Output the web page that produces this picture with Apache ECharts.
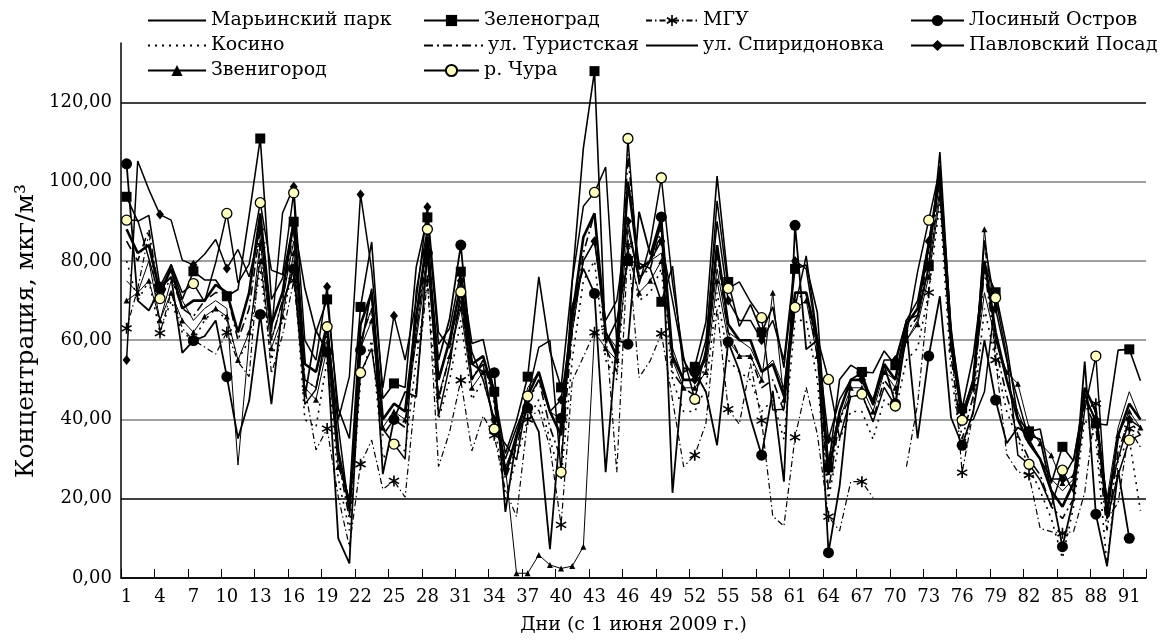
<!DOCTYPE html>
<html><head><meta charset="utf-8">
<script src="https://cdn.jsdelivr.net/npm/echarts@6/dist/echarts.min.js"></script>
<style>html,body{margin:0;padding:0;background:#fff}#c{width:1163px;height:641px}</style>
</head><body><div id="c"></div>
<script>
const days = Array.from({length: 92}, (_, i) => String(i + 1));

const maryino = [75,72,80,65,75,70,65,68,70,68, 28.5,60,85,60,70,85,50,48,60,30, 20,60,68,40,44,42,62,82,50,60, 70,50,55,48,28,35,48,52,42,40, 62,80,85,62,58,88,75,80,82,58, 50,50,55,78,62,60,58,52,55,48, 72,72,58,30,42,50,50,45,52,50, 60,65,78,98,60,42,50,72,60,50, 42,35,30,25,22,25,48,42,20,38, 47,40];
const zelenograd = [96.2,90,91.5,73.5,79.1,70.3,77.4,75.2,75.2,71.1, 72.8,91.5,110.9,70.3,75.6,89.9,73.1,62,70.3,42.8, 35.2,68.4,84.8,45.3,49.1,48.1,78.5,91.0,59,63, 77.3,59.2,60.2,47.0,31.4,39.7,50.8,76.0,57.3,48.1, 75,108.5,127.9,59.2,65,80,79.4,78.1,69.7,78.7, 52.0,53.3,64.6,101.4,74.7,63.5,69,62,68.4,53.1, 78,79,67.0,27.9,50.1,53.7,52,51.8,57.3,53.7, 65.1,66.3,78.7,107.5,62.1,42.8,56.2,78.7,72.1,58.5, 40.3,37,37.6,23.9,33.1,29.5,46.6,39.0,38.6,57.5, 57.7,49.8];
const mgu = [63,73,87,61.8,72,63,60,58.3,56.5,62, 54.6,50.8,84,51.6,61.3,75,48,32.3,37.7,20.5, 7.9,28.7,34.8,22.4,24.5,20.4,48.3,75,28.1,36.9, 49.9,32.1,40.9,36,22.2,15.5,40,42.4,33.1,13.4, 49.8,55.8,62,63,26.7,84,50.6,54.8,61.7,45, 28.1,31.0,39.0,68,42.6,38.8,54.1,39.7,15.6,13.1, 35.5,48.1,36.3,15.5,11.9,24.3,24.3,20.3,null,null, 28.1,43.9,72,105,60,26.6,42,85.2,55.0,31.2, 26.8,26.0,12.5,11.7,11.3,11.7,21.6,44,15,19.0, 37.7,33];
const losiny = [104.5,70,67.5,73,76,56.8,59.9,61,65,50.8, 35.2,44.7,66.5,43.9,69,78,45.7,62.5,57,10.0, 3.7,57.5,73,26.2,40,47,45.7,82,55,65.5, 84.0,54,52,51.8,16.7,35.2,42.9,36.9,7.3,40.3, 68.6,78.1,71.8,26.7,60,59.0,92.4,81.6,91.1,21.5, 53,52,47.0,33.5,59.6,52.3,40.3,31.0,47.2,24.3, 89.0,57.7,60,6.4,23.2,50.1,51.8,43.6,53.9,44, 63,35.2,56.0,71.1,40.5,33.5,42,60.0,44.9,34.0, 38,36.1,35,22,7.9,20,54.6,16.1,3.0,27.2, 10.0,null];
const kosino = [80,70,75,62,70,62,60,65,68,65, 55,60,78,55,65,80,40,38,55,25, 12,50,60,30,35,32,55,75,40,50, 65,45,50,40,20,30,40,45,35,25, 55,75,80,55,50,85,70,72,78,50, 42,42,48,72,55,52,50,42,45,35, 65,65,50,20,35,42,42,35,45,42, 55,58,72,95,52,32,42,68,55,42, 35,28,22,15,5,18,40,35,3,30, 35,17];
const turist = [85,80,88,70,76,68,66,70,72,72, 60,68,88,60,70,88,50,48,62,30, 15,60,68,36,40,38,62,85,45,56, 70,50,55,44,25,33,44,50,38,30, 62,82,92,58,52,107,76,78,88,52, 48,46,54,82,62,56,56,48,50,42, 70,72,56,22,40,46,46,40,50,46, 62,66,82,100,56,35,46,78,58,46, 36,30,26,18,15,20,44,38,12,32, 40,36];
const spiridon = [88,82,84,72,78,68,70,70,74,72, 62,72,92,64,72,90,54,52,64,32, 18,64,72,40,44,42,66,86,50,60, 74,54,56,46,26,36,46,52,42,36, 66,86,92,62,56,100,78,80,90,56, 50,50,56,84,64,60,60,52,54,46, 72,72,60,26,42,50,50,44,54,50, 64,68,84,102,60,40,50,80,62,50, 40,34,30,22,18,24,48,42,16,36, 44,40];
const pavlovsky = [55,105.2,98,91.7,90.3,80.2,79,81.7,85.4,78.1, 82.9,76,88.0,62,92.1,98.7,60,55,73.5,40, 50.8,96.8,77.7,48,66.2,55,70,93.6,62,58, 75,57,50,40,30,38,45,50,42,45, 65,80,85,65,70,90,75,80,85,70, 55,50,60,90,70,65,65,60,65,55, 80,78,60,35,45,50,50,45,55,55, 65,70,85,100,60,40,50,85,68,55, 45,35,30,25,25,30,45,40,20,30, 40,38];
const zvenigorod = [70,72,75,65,72,65,62,66,68,66, 55,62,80,58,66,82,48,45,58,28, 20,58,65,38,42,40,60,80,46,56, 68,48,52,40,28,1.2,1.2,5.8,3.3,2.4, 3.0,7.9,62,58,55,82,72,75,80,55, 48,48,52,75,60,56,56,50,72,45, 68,70,56,28,40,48,48,42,52,48, 60,64,76,96,58,40,48,88,60,52, 49,38,34,31,24,26,46,40,18,36, 42,38];
const chura = [90.3,90.3,80.6,70.5,79.1,72.0,74.3,69.7,79.6,92.0, 74.5,79.2,94.7,77.7,76.6,97.2,43.8,47.6,63.4,38.4, 16.3,51.8,57.9,37.6,33.8,30.0,72.6,88.0,40.9,53.7, 72.2,50.4,54.0,37.6,33.8,29.8,45.9,58.2,59.9,26.7, 74.9,93.8,97.3,103.7,59.4,110.9,74.1,84.4,101.0,74.5, 55.7,45.1,57.9,95.2,73.1,74.7,69.7,65.7,42.4,42.6, 68.3,81.3,60.7,50.1,35.2,45.7,46.4,39.4,48.1,43.4, 61.4,77.3,90.3,103.3,63.4,39.8,40.0,47.0,70.7,56.0, 31.0,28.7,24.7,18.2,27.2,21.6,42.4,56.0,14.9,26, 34.8,36.1];

const F = 'DejaVu Serif';
const STAR = 'path://M-0.07,-0.5L0.07,-0.5L0.07,0.5L-0.07,0.5Z M0.398,-0.311L0.468,-0.189L-0.398,0.311L-0.468,0.189Z M0.468,0.189L0.398,0.311L-0.468,-0.189L-0.398,-0.311Z';

function leg(name, left, textX, rowCenter, hide) {
  return {
    data: [hide ? {name: name, itemStyle: {opacity: 0}} : name],
    left: left, top: rowCenter - 11, itemWidth: textX - left - 5, itemHeight: 14,
    padding: 0, selectedMode: false,
    textStyle: {fontFamily: F, fontSize: 19, color: '#000'}
  };
}

function lineSeries(name, data, lineStyle, sym) {
  const s = {
    name: name, type: 'line', data: data, connectNulls: false,
    lineStyle: Object.assign({color: '#000'}, lineStyle),
    itemStyle: {color: '#000'}, emphasis: {disabled: true}, clip: false
  };
  if (sym) Object.assign(s, sym); else { s.symbol = 'none'; }
  return s;
}

const chart = echarts.init(document.getElementById('c'), null, {renderer: 'canvas'});
chart.setOption({
  animation: false,
  backgroundColor: '#fff',
  grid: {left: 121, right: 17, top: 43, bottom: 63},
  legend: [
    leg('Марьинский парк', 147, 210, 22, true),
    leg('Зеленоград', 423, 483, 22),
    leg('МГУ', 645, 702, 22),
    leg('Лосиный Остров', 910, 968, 22),
    leg('Косино', 147, 210, 47, true),
    leg('ул. Туристская', 423, 487, 47, true),
    leg('ул. Спиридоновка', 645, 702, 47, true),
    leg('Павловский Посад', 910, 968, 47),
    leg('Звенигород', 147, 210, 72),
    leg('р. Чура', 423, 483, 72)
  ],
  xAxis: {
    type: 'category', data: days, boundaryGap: true,
    name: 'Дни (с 1 июня 2009 г.)', nameLocation: 'middle', nameGap: 38,
    nameTextStyle: {fontFamily: F, fontSize: 19, color: '#000'},
    axisLine: {lineStyle: {color: '#000', width: 1.5}},
    axisTick: {show: true, inside: true, length: 9, interval: 2, lineStyle: {color: '#000', width: 1}},
    axisLabel: {interval: 2, margin: 10, fontFamily: F, fontSize: 18, color: '#000'},
    splitLine: {show: false}
  },
  yAxis: {
    type: 'value', min: 0, max: 135, interval: 20,
    axisLine: {show: true, lineStyle: {color: '#000', width: 1.5}},
    axisTick: {show: false},
    axisLabel: {margin: 9, fontFamily: F, fontSize: 18, color: '#000', showMaxLabel: false,
      formatter: v => (v % 20 === 0) ? v.toFixed(2).replace('.', ',') : ''},
    splitLine: {show: true, showMaxLine: false,
      lineStyle: {width: 1.5, color: ['#000', '#000', '#808080', '#808080', '#808080', '#808080', '#000']}}
  },
  graphic: [{
    type: 'text', x: 26, y: 331, rotation: Math.PI / 2,
    style: {text: 'Концентрация, мкг/м³', fontFamily: F, fontSize: 25, fill: '#000', align: 'center', verticalAlign: 'middle'}
  }],
  series: [
    lineSeries('Марьинский парк', maryino, {width: 1}),
    lineSeries('Косино', kosino, {width: 1.6, type: [2, 5]}),
    lineSeries('ул. Туристская', turist, {width: 1.6, type: [9, 4, 2, 4]}),
    lineSeries('ул. Спиридоновка', spiridon, {width: 2.6}),
    lineSeries('Звенигород', zvenigorod, {width: 1}, {symbol: 'triangle', symbolSize: 6}),
    lineSeries('МГУ', mgu, {width: 1.2, type: [6, 3, 1.5, 3]}, {symbol: STAR, symbolSize: 11}),
    lineSeries('Павловский Посад', pavlovsky, {width: 1.5}, {symbol: 'diamond', symbolSize: [8, 10]}),
    lineSeries('Зеленоград', zelenograd, {width: 1.6}, {symbol: 'rect', symbolSize: 10}),
    lineSeries('Лосиный Остров', losiny, {width: 1.8}, {symbol: 'circle', symbolSize: 11}),
    Object.assign(lineSeries('р. Чура', chura, {width: 1.5}, {symbol: 'circle', symbolSize: 10}),
      {itemStyle: {color: '#ffffc0', borderColor: '#000', borderWidth: 1.3}})
  ]
});
</script>
</body></html>
